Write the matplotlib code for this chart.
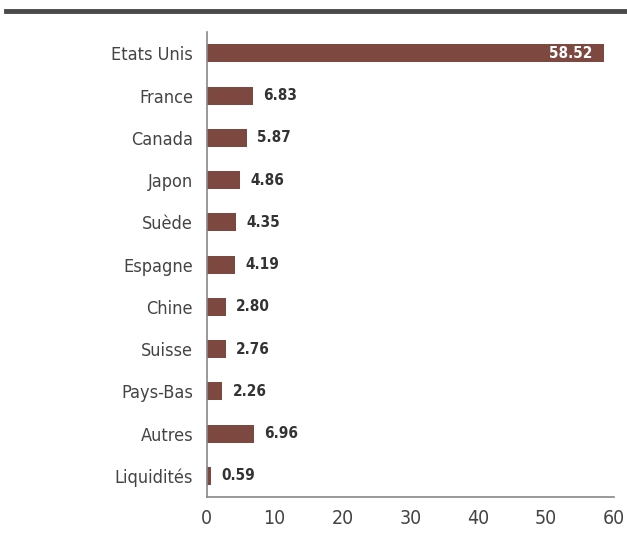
import matplotlib
matplotlib.use("Agg")
import matplotlib.pyplot as plt
from matplotlib.lines import Line2D

categories = ["Etats Unis", "France", "Canada", "Japon", "Suède", "Espagne",
              "Chine", "Suisse", "Pays-Bas", "Autres", "Liquidités"]
values = [58.52, 6.83, 5.87, 4.86, 4.35, 4.19, 2.80, 2.76, 2.26, 6.96, 0.59]
xticks = [0, 10, 20, 30, 40, 50, 60]

plt.rcParams["font.family"] = ["DejaVu Sans"]
plt.rcParams["font.stretch"] = "condensed"

fig = plt.figure(figsize=(6.27, 5.36), dpi=100)
ax = fig.add_axes([0.330, 0.0728, 0.649, 0.867])

bar_color = "#7d4840"
y = list(range(len(categories)))
ax.barh(y, values, height=0.43, color=bar_color)
ax.set_ylim(10.5, -0.5)
ax.set_xlim(0, 60)
ax.set_yticks(y)
ax.set_yticklabels(categories, fontsize=13, color="#444444")
ax.set_xticks(xticks)
ax.set_xticklabels([str(t) for t in xticks], fontsize=14, color="#444444")
ax.tick_params(axis="both", length=0)
ax.tick_params(axis="y", pad=10)
ax.tick_params(axis="x", pad=9)
for s in ["top", "right"]:
    ax.spines[s].set_visible(False)
for s in ["left", "bottom"]:
    ax.spines[s].set_color("#888888")
    ax.spines[s].set_linewidth(1.2)

for yi, v in zip(y, values):
    if v > 30:
        ax.text(v - 1.7, yi, f"{v:.2f}", ha="right", va="center",
                color="white", fontsize=11, fontweight="bold")
    else:
        ax.text(v + 1.5, yi, f"{v:.2f}", ha="left", va="center",
                color="#333333", fontsize=11, fontweight="bold")

fig.add_artist(Line2D([0.0096, 1.0], [1 - 11 / 536, 1 - 11 / 536],
                      transform=fig.transFigure, color="#4a4a4a", linewidth=3.5))

fig.savefig("out.png", dpi=100)
